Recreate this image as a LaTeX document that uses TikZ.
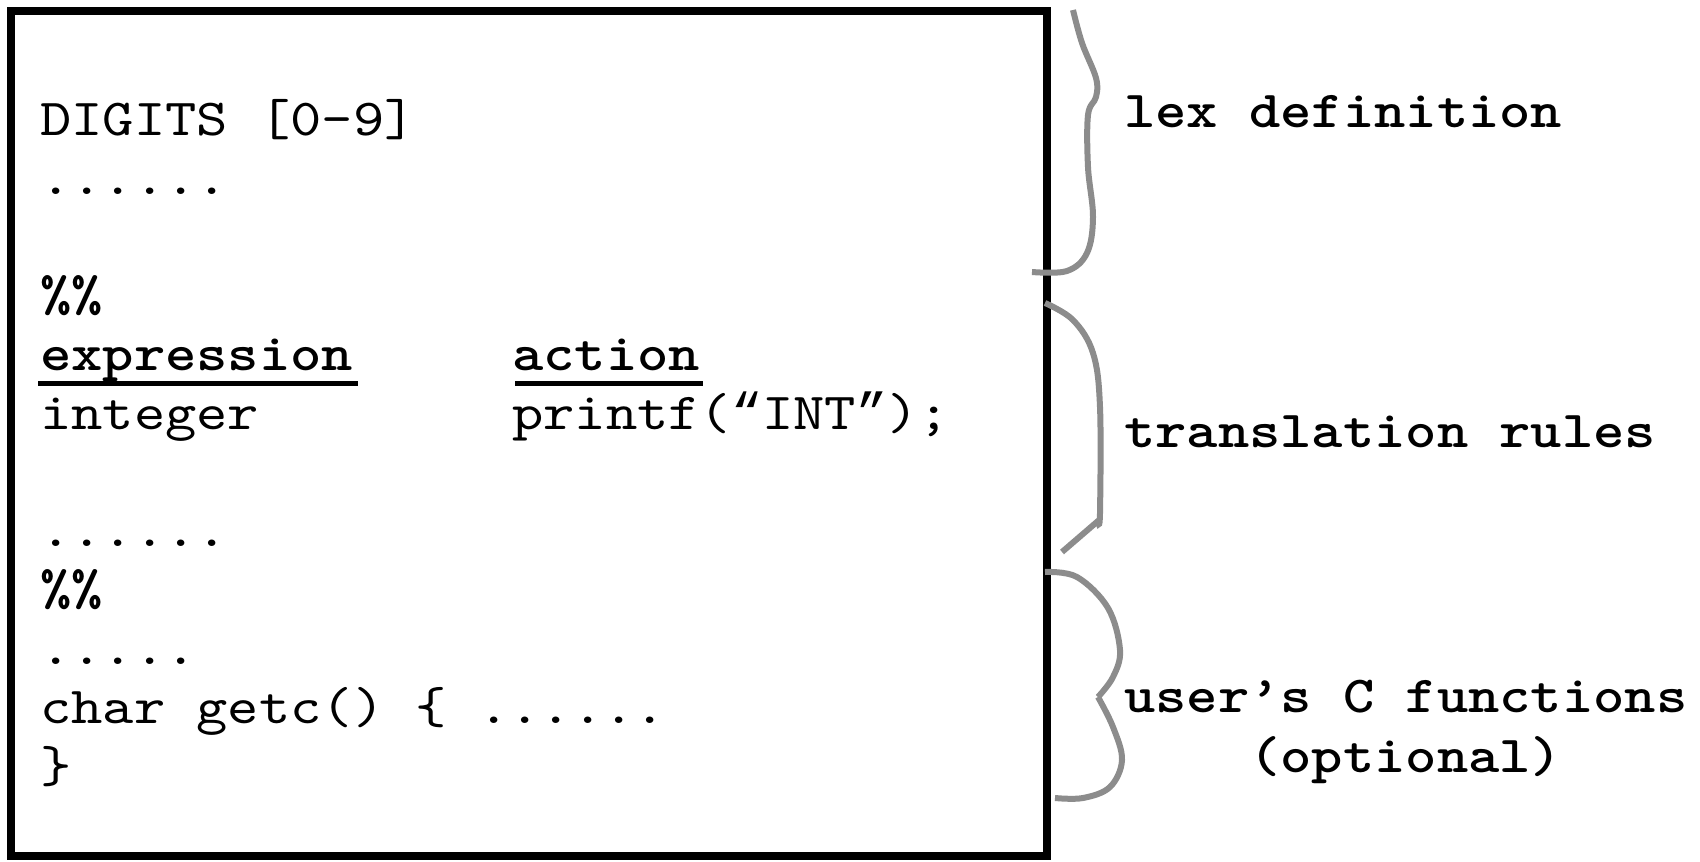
\documentclass[tikz,border=0pt]{standalone}
\usepackage{fontspec}
\setmainfont{lmmono10-regular.otf}[FakeStretch=1.146, BoldFont=lmmonolt10-bold.otf, BoldFeatures={FakeStretch=1.146}]
\newfontfamily\quotefont{Liberation Mono}
\definecolor{bracegray}{HTML}{8C8C8C}
\begin{document}
\begin{tikzpicture}[x=1pt,y=-1pt,
  code/.style={anchor=base west, inner sep=0pt, font=\fontsize{52}{60}\selectfont},
  codeb/.style={anchor=base west, inner sep=0pt, font=\fontsize{52}{60}\selectfont\bfseries},
  lbl/.style={inner sep=0pt, font=\fontsize{52}{60}\selectfont\bfseries},
  bracestyle/.style={draw=bracegray, line width=6pt},
  uline/.style={line width=5pt}]
\useasboundingbox (0,0) rectangle (1700,862);
\fill[white] (0,0) rectangle (1700,862);
% frame
\draw[line width=8pt] (11,11) rectangle (1047,856);
% code lines
\node[code]  (l1)  at (40,135)   {DIGITS [0-9]};
\node[code]  (l2)  at (40,194)   {......};
\node[codeb] (l4)  at (40,311)   {\%\%};
\node[codeb] (expr) at (40,370)  {expression};
\node[codeb] (act) at (512,370)  {action};
\node[code]  (l6)  at (40,429)   {integer};
\node[code]  (pr)  at (512,429)  {printf({\quotefont“}INT{\quotefont”});};
\node[code]  (l8)  at (40,546)   {......};
\node[codeb] (l9)  at (40,605)   {\%\%};
\node[code]  (l10) at (40,664)   {.....};
\node[code]  (l11) at (40,723)   {char getc() \{ ......};
\node[code]  (l12) at (40,782)   {\}};
% underlines
\draw[uline] ([xshift=-2pt,yshift=-13pt]expr.base west) -- ([xshift=5pt,yshift=-13pt]expr.base east);
\draw[uline] ([xshift=3pt,yshift=-13pt]act.base west) -- ([xshift=3pt,yshift=-13pt]act.base east);
% labels
\node[lbl, anchor=base west] (lexdef) at (1124,127) {lex definition};
\node[lbl, anchor=base west] (trans) at (1124,447) {translation rules};
\node[lbl, anchor=base west] (userc) at (1124,712) {user’s C functions};
\node[lbl, anchor=base] (opt) at ([yshift=-60pt]userc.base) {(optional)};
% braces
\draw[bracestyle] plot[smooth, tension=0.6] coordinates {(1073,10) (1082,43) (1096,78) (1096,97) (1088,115) (1088,167) (1093,217) (1087,253) (1067,271) (1032,272)};
\draw[bracestyle] plot[smooth, tension=0.6] coordinates {(1045,303) (1073,320) (1093,353) (1100,407) (1100,513) (1098,521)} -- (1062,552);
\draw[bracestyle] plot[smooth, tension=0.6] coordinates {(1045,572) (1077,577) (1108,608) (1120,650) (1113,677) (1098,697)};
\draw[bracestyle] plot[smooth, tension=0.6] coordinates {(1098,697) (1113,727) (1122,760) (1110,787) (1083,798) (1055,798)};
\end{tikzpicture}
\end{document}
